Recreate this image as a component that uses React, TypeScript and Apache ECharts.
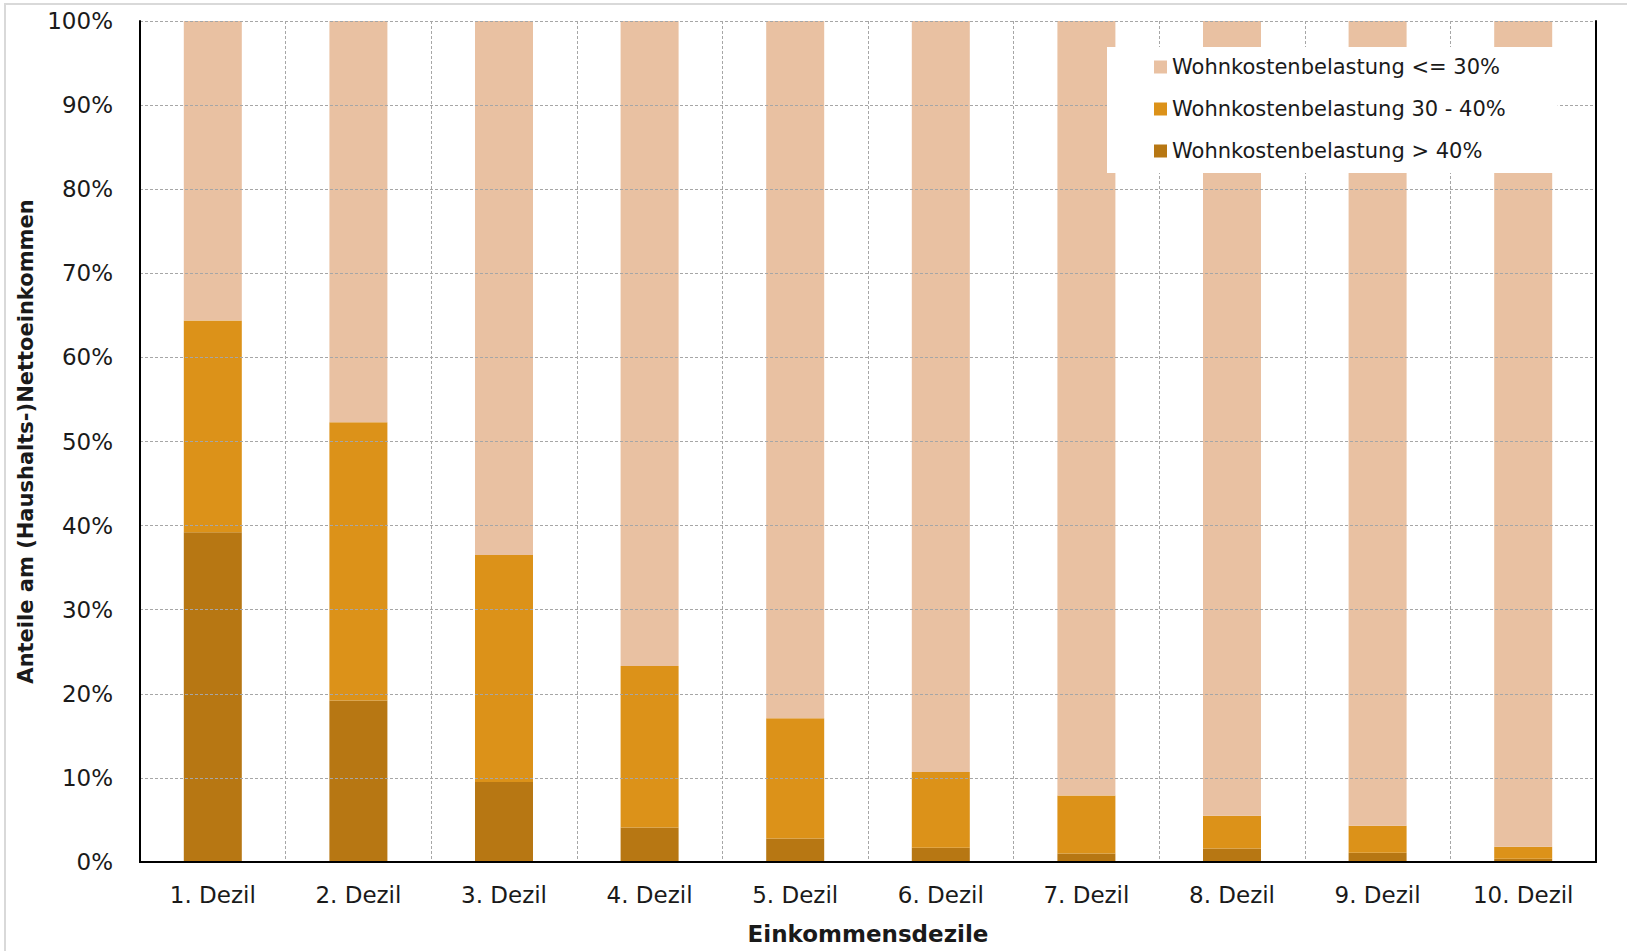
import React, { useEffect, useRef } from "react";
import * as echarts from "echarts";

const categories = [
  "1. Dezil", "2. Dezil", "3. Dezil", "4. Dezil", "5. Dezil",
  "6. Dezil", "7. Dezil", "8. Dezil", "9. Dezil", "10. Dezil",
];
const over40 = [39.2, 19.2, 9.5, 4.1, 2.8, 1.7, 1.0, 1.6, 1.1, 0.4];
const between30and40 = [25.2, 33.1, 27.0, 19.2, 14.3, 9.0, 6.9, 3.9, 3.2, 1.4];
const upTo30 = [35.6, 47.7, 63.5, 76.7, 82.9, 89.3, 92.1, 94.5, 95.7, 98.2];
const seriesNames = [
  "Wohnkostenbelastung <= 30%",
  "Wohnkostenbelastung 30 - 40%",
  "Wohnkostenbelastung > 40%",
];
const yTicks = { min: 0, max: 100, interval: 10 };
const xTitle = "Einkommensdezile";
const yTitle = "Anteile am (Haushalts-)Nettoeinkommen";

const FONT = "DejaVu Sans";

export default function App() {
  const ref = useRef<HTMLDivElement>(null);
  useEffect(() => {
    if (!ref.current) return;
    const chart = echarts.init(ref.current, undefined, { renderer: "svg" });
    const grid = "#a6a6a6";
    const frameLine = { show: true, lineStyle: { color: "#000", width: 2 } };
    chart.setOption({
      animation: false,
      backgroundColor: "#ffffff",
      graphic: [
        {
          type: "rect",
          shape: { x: 5, y: 4, width: 1700, height: 1100 },
          style: { fill: "none", stroke: "#d9d9d9", lineWidth: 2 },
          silent: true,
          z: -1,
        },
      ],
      grid: {
        left: 140,
        top: 21,
        right: 31,
        bottom: 89,
      },
      legend: {
        orient: "vertical",
        left: 1107,
        top: 47,
        icon: "rect",
        itemWidth: 13,
        itemHeight: 13,
        itemGap: 20,
        padding: [9, 52, 11, 47],
        backgroundColor: "#ffffff",
        data: seriesNames,
        textStyle: {
          fontFamily: FONT,
          fontSize: 21,
          lineHeight: 22,
          color: "#1a1a1a",
        },
        z: 10,
      },
      xAxis: [
        {
          type: "category",
          data: categories,
          axisLine: frameLine,
          axisTick: { show: false },
          axisLabel: {
            fontFamily: FONT,
            fontSize: 23,
            color: "#1a1a1a",
            margin: 21,
          },
          splitLine: {
            show: true,
            lineStyle: { color: grid, type: [3, 2], width: 1 },
          },
          name: xTitle,
          nameLocation: "middle",
          nameGap: 60,
          nameTextStyle: {
            fontFamily: FONT,
            fontSize: 23,
            fontWeight: "bold",
            color: "#1a1a1a",
          },
          z: 5,
        },
        {
          type: "category",
          data: categories,
          position: "top",
          axisLine: frameLine,
          axisTick: { show: false },
          axisLabel: { show: false },
          splitLine: { show: false },
          z: 5,
        },
      ],
      yAxis: [
        {
          type: "value",
          min: yTicks.min,
          max: yTicks.max,
          interval: yTicks.interval,
          axisLine: frameLine,
          axisTick: { show: false },
          axisLabel: {
            fontFamily: FONT,
            fontSize: 23,
            color: "#1a1a1a",
            margin: 27,
            formatter: "{value}%",
          },
          splitLine: {
            show: true,
            lineStyle: { color: grid, type: [3, 2], width: 1 },
          },
          name: yTitle,
          nameLocation: "middle",
          nameRotate: 90,
          nameGap: 88,
          nameTextStyle: {
            fontFamily: FONT,
            fontSize: 21,
            fontWeight: "bold",
            color: "#1a1a1a",
          },
          z: 5,
        },
        {
          type: "value",
          position: "right",
          min: yTicks.min,
          max: yTicks.max,
          interval: yTicks.interval,
          axisLine: frameLine,
          axisTick: { show: false },
          axisLabel: { show: false },
          splitLine: { show: false },
          z: 5,
        },
      ],
      series: [
        {
          name: seriesNames[2],
          type: "bar",
          stack: "total",
          barWidth: 58,
          data: over40,
          itemStyle: { color: "#b77713" },
        },
        {
          name: seriesNames[1],
          type: "bar",
          stack: "total",
          barWidth: 58,
          data: between30and40,
          itemStyle: { color: "#dc9219" },
        },
        {
          name: seriesNames[0],
          type: "bar",
          stack: "total",
          barWidth: 58,
          data: upTo30,
          itemStyle: { color: "#e9c1a2" },
        },
      ],
    });
    return () => chart.dispose();
  }, []);
  return (
    <div
      ref={ref}
      style={{ position: "fixed", left: 0, top: 0, width: 1627, height: 951 }}
    />
  );
}
